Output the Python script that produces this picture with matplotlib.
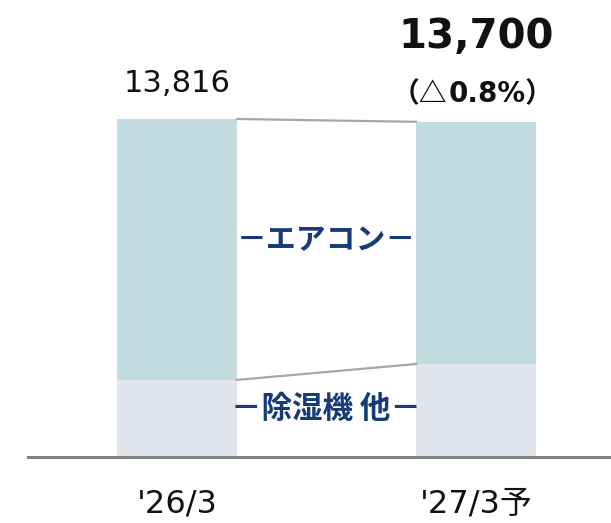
import numpy as np
import matplotlib
matplotlib.use("Agg")
import matplotlib.pyplot as plt

plt.rcParams['font.family'] = ['DejaVu Sans', 'Noto Sans CJK JP']

# 売上（億円）
periods = ["'26/3", "'27/3予"]
aircon = [10666, 9900]      # エアコン
dehumid = [3150, 3800]      # 除湿機 他
totals = [13816, 13700]
total_labels = ["13,816", "13,700"]
change_pre = "（△"
change_val = "0.8%）"

c_top = '#c3dce2'
c_bottom = '#e0e6eb'
c_navy = '#173a78'
c_link = '#a6a6a6'

fig = plt.figure(figsize=(6.11, 5.23), dpi=100)
ax = fig.add_axes([0, 0, 1, 1])

x = np.arange(len(periods))
w = 0.401
ax.bar(x, dehumid, width=w, color=c_bottom, zorder=2)
ax.bar(x, aircon, width=w, bottom=dehumid, color=c_top, zorder=2)

# つなぎ線
ax.plot([x[0] + w / 2, x[1] - w / 2], [totals[0], totals[1]], color=c_link, lw=1.6, zorder=3)
ax.plot([x[0] + w / 2, x[1] - w / 2], [dehumid[0], dehumid[1]], color=c_link, lw=1.6, zorder=3)

ax.set_xlim(-0.592, 1.452)
ax.set_ylim(-2698, 18680)
ax.axhline(0, xmin=28 / 611, xmax=1, color='#808080', lw=2.2, zorder=4)
ax.axis('off')

# 合計
ax.text(x[0], totals[0] + 1100, total_labels[0], ha='center', va='baseline',
        fontsize=22, color='#111111')
ax.text(x[1], totals[1] + 3020, total_labels[1], ha='center', va='baseline',
        fontsize=29, fontweight='bold', color='#111111')
# 前期比（△は和文フォントで）
ax.text(x[1] - 0.095, totals[1] + 800, change_pre, ha='right', va='baseline',
        fontsize=20, fontweight='bold', color='#111111', family=['Noto Sans CJK JP'])
ax.text(x[1] - 0.092, totals[1] + 800, change_val, ha='left', va='baseline',
        fontsize=20, fontweight='bold', color='#111111',
        family=['DejaVu Sans', 'Noto Sans CJK JP'])

# 系列名
xm = (x[0] + x[1]) / 2
ax.text(xm, 8870, '－エアコン－', ha='center', va='center', fontsize=21.5,
        fontweight='bold', color=c_navy, family=['Noto Sans CJK JP'])
ax.text(xm, 1960, '－除湿機 他－', ha='center', va='center', fontsize=22,
        fontweight='bold', color=c_navy, family=['Noto Sans CJK JP'])

for xi, p in zip(x, periods):
    ax.text(xi, -2250, p, ha='center', va='baseline', fontsize=23, color='#111111')

fig.savefig('out.png', dpi=100)
